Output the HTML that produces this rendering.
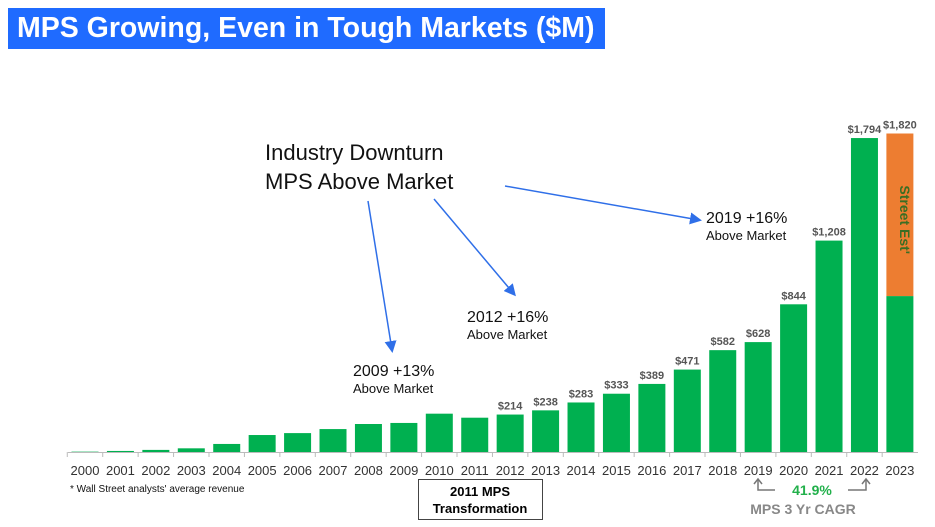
<!DOCTYPE html>
<html><head><meta charset="utf-8"><style>
body{margin:0;background:#fff;font-family:"Liberation Sans",sans-serif}
#wrap{position:relative;width:935px;height:527px;overflow:hidden}
</style></head><body>
<div id="wrap">
<div style="position:absolute;left:8px;top:8px;width:597px;height:41px;background:#1f6bff;color:#fff;font-weight:bold;font-size:28.5px;line-height:41px;padding-left:9px;box-sizing:border-box;white-space:nowrap">MPS Growing, Even in Tough Markets ($M)</div>
<svg id="chart" width="935" height="527" style="position:absolute;left:0;top:0">
<defs><marker id="ah" markerWidth="8" markerHeight="8" refX="6" refY="4" orient="auto"><path d="M0,0L8,4L0,8z" fill="#2f6fe8"/></marker></defs>
<g id="bars"></g>
<line x1="68" y1="452.5" x2="918" y2="452.5" stroke="#bbb" stroke-width="1"/>
<g id="labels"></g>
<g font-family="Liberation Sans, sans-serif" fill="#111">
<text x="265" y="160" font-size="22">Industry Downturn</text>
<text x="265" y="189" font-size="22">MPS Above Market</text>
<text x="353" y="376" font-size="16">2009 +13%</text>
<text x="353" y="393" font-size="13">Above Market</text>
<text x="467" y="322" font-size="16">2012 +16%</text>
<text x="467" y="339" font-size="13">Above Market</text>
<text x="706" y="223" font-size="16">2019 +16%</text>
<text x="706" y="240" font-size="13">Above Market</text>
<text x="70" y="492" font-size="10">* Wall Street analysts' average revenue</text>
</g>
<g stroke="#2f6fe8" stroke-width="1.5" fill="none">
<line x1="368" y1="201" x2="392" y2="350" marker-end="url(#ah)"/>
<line x1="434" y1="199" x2="514" y2="294" marker-end="url(#ah)"/>
<line x1="505" y1="186" x2="699" y2="220" marker-end="url(#ah)"/>
</g>
<rect x="418.5" y="479.5" width="124" height="40" fill="#fff" stroke="#444"/>
<text x="480" y="496" font-size="13" font-weight="bold" text-anchor="middle" font-family="Liberation Sans, sans-serif">2011 MPS</text>
<text x="480" y="513" font-size="13" font-weight="bold" text-anchor="middle" font-family="Liberation Sans, sans-serif">Transformation</text>
<g stroke="#777" stroke-width="1.5" fill="none">
<path d="M775,490 H758 V480"/><path d="M754,484 L758,479 L762,484"/>
<path d="M848,490 H866 V480"/><path d="M862,484 L866,479 L870,484"/>
</g>
<text x="812" y="495" font-size="14" font-weight="bold" fill="#22b04b" text-anchor="middle" font-family="Liberation Sans, sans-serif">41.9%</text>
<text x="803" y="514" font-size="14" font-weight="bold" fill="#888" text-anchor="middle" font-family="Liberation Sans, sans-serif">MPS 3 Yr CAGR</text>
</svg>
</div>
<script>
const years=["2000","2001","2002","2003","2004","2005","2006","2007","2008","2009","2010","2011","2012","2013","2014","2015","2016","2017","2018","2019","2020","2021","2022","2023"];
const revenue=[2,6,12,21,46,97,108,131,160,166,219,196,214,238,283,333,389,471,582,628,844,1208,1794,891];
const streetEst=[0,0,0,0,0,0,0,0,0,0,0,0,0,0,0,0,0,0,0,0,0,0,0,929];
const valueLabels=["","","","","","","","","","","","","$214","$238","$283","$333","$389","$471","$582","$628","$844","$1,208","$1,794","$1,820"];
const ns="http://www.w3.org/2000/svg";
const base=452, k=0.175, x0=85, step=35.43, bw=27;
const xc=i=>x0+i*step, yh=v=>v*k;
const gb=document.getElementById('bars'), gl=document.getElementById('labels');
function mk(t,a){const e=document.createElementNS(ns,t);for(const n in a)e.setAttribute(n,a[n]);return e;}
years.forEach((y,i)=>{
  const h=yh(revenue[i]);
  const r=mk('rect',{x:xc(i)-bw/2,y:base-h,width:bw,height:h,fill:'#00b050'});
  
  
  gb.appendChild(r);
  let top=base-h;
  if(streetEst[i]>0){
    const h2=yh(streetEst[i]);
    const o=mk('rect',{x:xc(i)-bw/2,y:top-h2,width:bw,height:h2,fill:'#ed7d31'});
    
    
    gb.appendChild(o);
    const t=mk('text',{x:xc(i)+5,y:top-h2/2,'font-size':14,'font-weight':'bold',fill:'#3a6e24','text-anchor':'middle','font-family':'Liberation Sans, sans-serif',transform:`rotate(90 ${xc(i)} ${top-h2/2})`});
    t.textContent="Street Est'";
    
    
    gl.appendChild(t);
    top-=h2;
  }
  const tk=mk('line',{x1:xc(i)-step/2,y1:base,x2:xc(i)-step/2,y2:base+5,stroke:'#bbb'});
  
  
  gl.appendChild(tk);
  const xl=mk('text',{x:xc(i),y:475,'font-size':13,fill:'#333','text-anchor':'middle','font-family':'Liberation Sans, sans-serif'});
  xl.textContent=y;
  
  
  gl.appendChild(xl);
  if(valueLabels[i]){
    const vl=mk('text',{x:xc(i),y:top-5,'font-size':11,'font-weight':'bold',fill:'#555','text-anchor':'middle','font-family':'Liberation Sans, sans-serif'});
    vl.textContent=valueLabels[i];
    
    
    gl.appendChild(vl);
  }
});
</script>
</body></html>
